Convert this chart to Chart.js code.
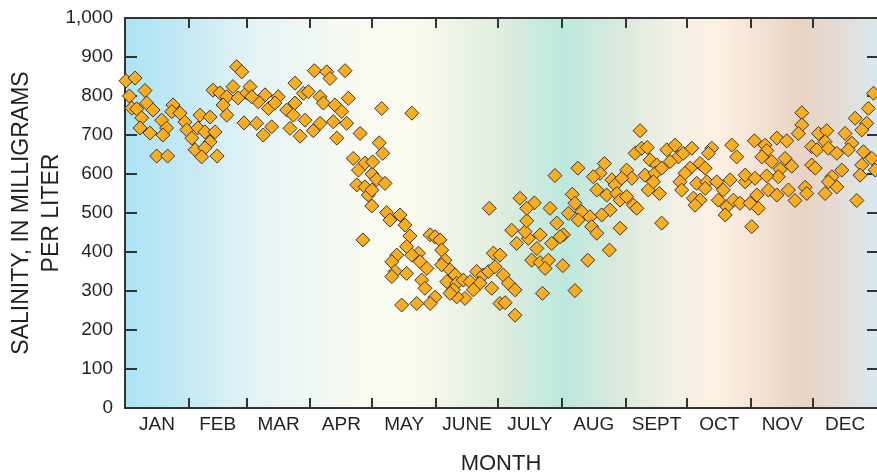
<!DOCTYPE html>
<html>
<head>
<meta charset="utf-8">
<script src="https://cdn.jsdelivr.net/npm/chart.js@4.4.1/dist/chart.umd.min.js"></script>
<style>
  html, body { margin: 0; padding: 0; background: #fff; overflow: hidden; }
  #wrap { width: 877px; height: 476px; overflow: hidden; }
  canvas { display: block; }
</style>
</head>
<body>
<!-- canvas is a bit wider than the window: Chart.js keeps ~8px free on the right,
     the reference plot runs up to the edge -->
<div id="wrap"><canvas id="salinity-graph" width="885" height="476"></canvas></div>
<script>
var monthNames = ["JAN","FEB","MAR","APR","MAY","JUNE","JULY","AUG","SEPT","OCT","NOV","DEC"];
var monthStart = [0,31,59,90,120,151,181,212,243,273,304,334,365];
var yTicks = [0,100,200,300,400,500,600,700,800,900,1000];

// day of year / salinity in mg/L
var days = [
  0.5,4.9,2.1,9.7,3.3,5.7,10.5,8.1,13.6,7.3,
  12.1,17.8,20.2,18.4,23.3,22.7,26.7,29.1,30.0,32.4,
  36.4,35.4,38.8,41.3,43.7,41.3,34.0,38.8,37.2,15.4,
  20.7,44.7,42.7,46.1,49.4,47.6,49.4,54.2,56.7,52.4,
  54.9,57.8,59.1,91.9,97.9,99.5,106.8,82.5,60.7,68.0,
  74.4,64.7,61.5,69.6,72.8,78.5,82.5,86.6,89.0,94.7,
  96.3,101.9,108.4,105.2,81.7,87.4,63.9,67.1,71.2,80.1,
  85.0,91.4,94.7,101.1,107.6,114.1,102.8,110.8,113.3,116.5,
  112.5,116.5,118.1,119.9,124.6,139.2,123.4,125.1,120.2,122.2,
  126.2,119.8,119.8,127.0,128.6,133.5,135.9,138.3,176.8,148.1,
  150.5,152.9,153.7,136.7,142.4,131.9,129.5,139.2,143.2,146.5,
  155.3,153.7,157.8,160.2,131.1,129.5,136.7,144.0,145.6,156.2,
  161.0,164.2,167.5,170.7,173.9,176.4,179.6,178.8,178.0,172.3,
  169.1,165.0,161.0,159.4,157.8,150.5,148.1,141.6,134.3,182.0,
  115.5,208.7,219.8,232.7,230.6,227.3,236.3,237.9,229.0,233.8,
  238.7,240.3,235.4,231.4,240.3,235.1,224.6,217.1,218.4,215.2,
  221.7,220.0,225.7,226.5,229.0,209.6,212.8,211.2,207.1,199.9,
  201.5,195.8,194.2,187.7,190.1,195.0,191.7,198.7,195.0,206.3,
  197.4,201.5,205.5,203.9,212.5,202.6,218.4,182.0,183.6,186.1,
  189.3,184.5,189.3,250.0,247.6,250.8,253.5,254.9,258.1,243.5,
  246.0,241.1,252.4,257.3,260.5,263.0,267.0,268.6,264.6,271.0,
  275.1,274.3,271.8,279.1,281.6,284.8,283.2,294.5,296.9,254.0,
  259.4,256.5,269.4,270.2,277.5,282.4,281.6,287.2,293.7,290.4,
  288.0,292.1,291.3,275.9,279.1,276.7,295.3,298.5,301.0,301.0,
  243.5,246.8,248.4,260.5,328.5,328.5,326.8,316.4,321.2,305.5,
  310.7,311.5,309.1,313.9,320.4,323.6,318.0,317.1,311.5,305.8,
  312.3,316.4,322.0,325.2,330.1,330.9,306.7,303.4,307.4,304.2,
  336.6,340.6,333.3,335.8,339.8,341.4,333.3,335.0,345.5,349.5,
  352.8,351.1,354.4,360.0,357.6,360.8,363.3,358.4,357.6,362.5,
  347.9,343.1,345.5,341.4,339.8,356.8,355.2,364.1
];
var salinity = [
  839,846,800,814,769,767,782,744,764,718,
  705,738,718,700,777,760,756,733,713,692,
  751,718,708,746,708,682,662,667,644,646,
  646,646,815,808,798,777,751,875,862,824,
  795,731,808,865,862,845,865,833,824,803,
  798,785,798,768,782,764,782,807,811,798,
  782,777,794,760,751,738,730,700,721,717,
  697,711,730,734,730,704,692,640,610,628,
  572,567,546,600,768,756,680,653,631,586,
  576,559,518,501,482,495,469,441,512,444,
  439,431,405,414,397,392,375,392,375,358,
  379,367,354,341,350,337,345,328,307,324,
  320,328,324,350,341,350,362,397,307,320,
  303,281,285,303,294,284,268,268,264,268,
  431,596,615,627,602,593,585,572,559,546,
  550,533,508,495,461,405,379,548,525,499,
  503,482,490,465,448,474,444,439,422,409,
  444,435,452,456,422,480,538,526,512,512,
  379,373,379,358,365,294,301,392,341,320,
  303,270,238,711,653,666,668,636,623,610,
  589,589,597,602,615,662,674,644,632,653,
  666,615,602,627,615,666,653,674,644,559,
  550,580,580,559,576,580,563,580,585,559,
  533,516,495,538,533,520,533,525,580,597,
  542,520,512,474,757,726,704,692,685,685,
  674,660,644,632,640,620,612,593,595,589,
  559,546,559,532,566,550,546,525,512,465,
  704,711,670,662,683,666,623,615,653,704,
  679,662,743,730,713,768,807,657,623,640,
  610,593,567,580,550,597,532,610
];

var monthMid = [];
for (var i = 0; i < 12; i++) {
  monthMid.push((monthStart[i] + monthStart[i + 1]) / 2);
}

var points = [];
for (var i in days) {
  points.push({x: days[i], y: salinity[i]});
}

var plotBackground = {
  id: 'plotBackground',
  beforeDatasetsDraw: function(chart) {
    var a = chart.chartArea, ctx = chart.ctx;
    var g = ctx.createLinearGradient(a.left, 0, a.right, 0);
    g.addColorStop(0.00, '#ace3f5');
    g.addColorStop(0.08, '#c4e9f4');
    g.addColorStop(0.17, '#e4f3f5');
    g.addColorStop(0.30, '#f7faf2');
    g.addColorStop(0.38, '#fbfbee');
    g.addColorStop(0.50, '#deeddf');
    g.addColorStop(0.585, '#bde8dd');
    g.addColorStop(0.66, '#dbeade');
    g.addColorStop(0.73, '#f2f0e4');
    g.addColorStop(0.79, '#fdf0e3');
    g.addColorStop(0.90, '#e9d3c2');
    g.addColorStop(0.95, '#e4dcd6');
    g.addColorStop(1.00, '#d8e8ee');
    ctx.save();
    ctx.fillStyle = g;
    ctx.fillRect(a.left, a.top, a.right - a.left, a.bottom - a.top);

    // frame + inward ticks
    var xs = chart.scales.x, ys = chart.scales.y;
    ctx.strokeStyle = '#333333';
    ctx.lineWidth = 2;
    ctx.beginPath();
    ctx.moveTo(a.left, a.top); ctx.lineTo(a.right, a.top);
    ctx.moveTo(a.left, a.top - 1); ctx.lineTo(a.left, a.bottom + 1);
    ctx.moveTo(a.left, a.bottom); ctx.lineTo(a.right, a.bottom);
    for (var m = 1; m < monthStart.length - 1; m++) {
      var x = Math.round(xs.getPixelForValue(monthStart[m]));
      ctx.moveTo(x, a.top); ctx.lineTo(x, a.top + 10);
      ctx.moveTo(x, a.bottom); ctx.lineTo(x, a.bottom - 10);
    }
    for (var t = 1; t < yTicks.length - 1; t++) {
      var y = Math.round(ys.getPixelForValue(yTicks[t]));
      ctx.moveTo(a.left, y); ctx.lineTo(a.left + 12, y);
      ctx.moveTo(a.right, y); ctx.lineTo(a.right - 10, y);
    }
    ctx.stroke();
    ctx.restore();
  }
};

Chart.defaults.font.family = '"Liberation Sans", Arial, sans-serif';
Chart.defaults.color = '#231f20';

var ctx1 = document.getElementById('salinity-graph');
var salinityChart = new Chart(ctx1, {
  type: 'scatter',
  data: {
    datasets: [{
      label: 'Salinity',
      data: points,
      pointStyle: 'rectRot',
      pointRadius: 7,
      pointBackgroundColor: '#f8ae20',
      pointBorderColor: '#3a3530',
      pointBorderWidth: 1,
      clip: false
    }]
  },
  options: {
    responsive: false,
    animation: false,
    devicePixelRatio: 1,
    layout: { padding: { top: 18, right: 0, bottom: 0, left: 0 } },
    plugins: { legend: { display: false }, tooltip: { enabled: false } },
    scales: {
      x: {
        type: 'linear',
        min: 0,
        max: 365,
        afterBuildTicks: function(s) {
          s.ticks = monthMid.map(function(v) { return {value: v}; });
        },
        afterFit: function(s) {
          s.height = 68;
          s.paddingLeft = 0;
          s.paddingRight = 0;
        },
        grid: { display: false, drawTicks: false },
        border: { display: false },
        ticks: {
          autoSkip: false,
          maxRotation: 0,
          padding: 5,
          font: { size: 19 },
          callback: function(v, i) { return monthNames[i]; }
        },
        title: {
          display: true,
          text: 'MONTH',
          font: { size: 22, lineHeight: 1.1 },
          padding: { top: 0, bottom: 0 }
        }
      },
      y: {
        min: 0,
        max: 1000,
        afterBuildTicks: function(s) {
          s.ticks = yTicks.map(function(v) { return {value: v}; });
        },
        afterFit: function(s) {
          s.width = 125;
          s.paddingTop = 0;
          s.paddingBottom = 0;
        },
        grid: { display: false, drawTicks: false },
        border: { display: false },
        ticks: {
          padding: 12,
          font: { size: 19 },
          callback: function(v) { return v.toLocaleString('en-US'); }
        },
        title: {
          display: true,
          text: ['SALINITY, IN MILLIGRAMS', 'PER LITER'],
          font: { size: 23, lineHeight: 1.3 },
          padding: { top: 7, bottom: 0 }
        }
      }
    }
  },
  plugins: [plotBackground]
});
</script>
</body>
</html>
